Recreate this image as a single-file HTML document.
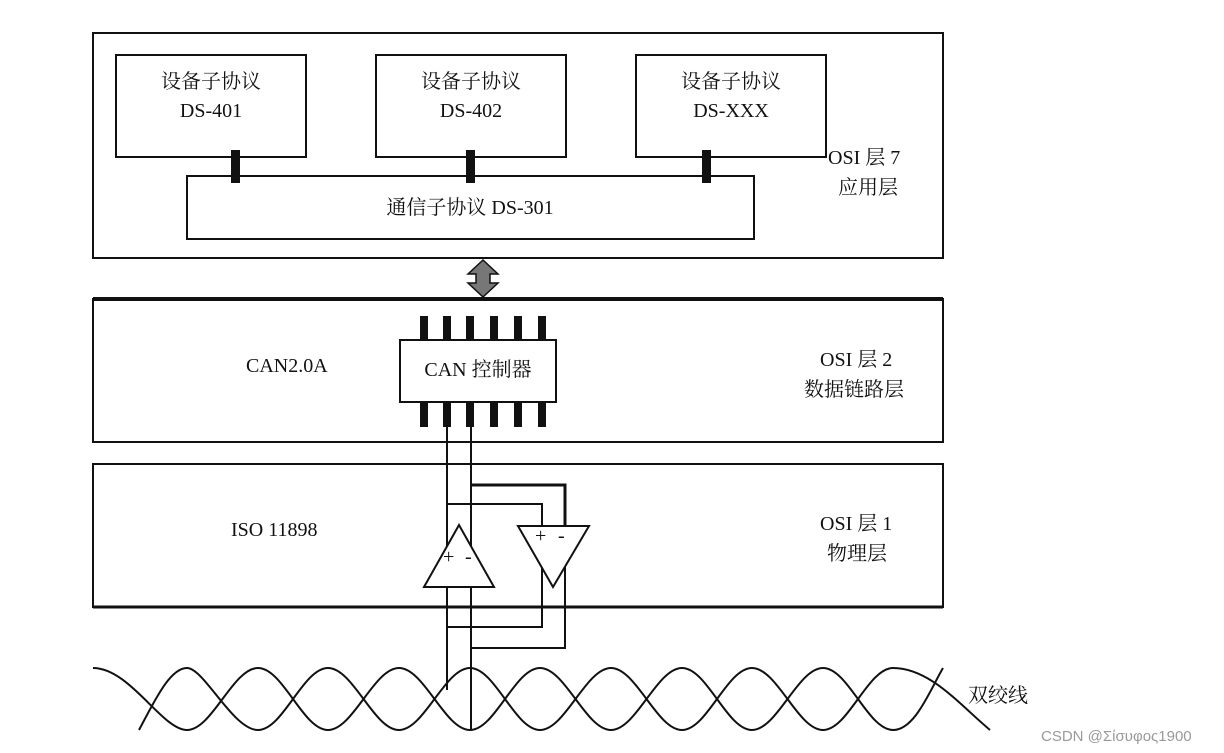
<!DOCTYPE html>
<html><head><meta charset="utf-8"><style>
html,body{margin:0;padding:0;background:#fff;}
svg{display:block;}
text{font-family:"Liberation Serif","Noto Serif CJK SC",serif;font-size:20px;fill:#111;}
</style></head><body>
<svg width="1224" height="753" viewBox="0 0 1224 753" xmlns="http://www.w3.org/2000/svg">
<g fill="none" stroke="#111">
<rect x="93" y="33" width="850" height="225" stroke-width="2"/>
<rect x="116" y="55" width="190" height="102" stroke-width="2"/>
<rect x="376" y="55" width="190" height="102" stroke-width="2"/>
<rect x="636" y="55" width="190" height="102" stroke-width="2"/>
<rect x="187" y="176" width="567" height="63" stroke-width="2"/>
<rect x="93" y="299" width="850" height="143" stroke-width="2"/>
<line x1="93" y1="299" x2="943" y2="299" stroke-width="4"/>
<rect x="93" y="464" width="850" height="143" stroke-width="2"/>
<line x1="93" y1="607" x2="943" y2="607" stroke-width="3"/>
<rect x="400" y="340" width="156" height="62" stroke-width="2"/>
</g>
<g fill="#111">
<rect x="231" y="150" width="9" height="33"/>
<rect x="466" y="150" width="9" height="33"/>
<rect x="702" y="150" width="9" height="33"/>
<rect x="420" y="316" width="8" height="24"/><rect x="443" y="316" width="8" height="24"/><rect x="466" y="316" width="8" height="24"/><rect x="490" y="316" width="8" height="24"/><rect x="514" y="316" width="8" height="24"/><rect x="538" y="316" width="8" height="24"/>
<rect x="420" y="402" width="8" height="25"/><rect x="443" y="402" width="8" height="25"/><rect x="466" y="402" width="8" height="25"/><rect x="490" y="402" width="8" height="25"/><rect x="514" y="402" width="8" height="25"/><rect x="538" y="402" width="8" height="25"/>
</g>
<path d="M483,260 L468,274 L476,274 L476,283 L468,283 L483,297 L498,283 L490,283 L490,274 L498,274 Z" fill="#777" stroke="#111" stroke-width="1.5"/>
<g fill="none" stroke="#111" stroke-width="2">
<path d="M447,427 V690"/>
<path d="M471,427 V730"/>
<path d="M471,485 H565 V526" stroke-width="3"/>
<path d="M447,504 H542 V526"/>
<path d="M542,560 V627 H447"/>
<path d="M565,540 V648 H471"/>
<path d="M459,525 L424,587 L494,587 Z" fill="#fff"/>
<path d="M518,526 L589,526 L553,587 Z" fill="#fff"/>
<path d="M447,587 V690 M471,587 V730"/>
<path d="M93,668 C130,668 162,730 187,730 S233,668 258,668 S303,730 328,730 S374,668 399,668 S445,730 470,730 S515,668 540,668 S586,730 611,730 S657,668 682,668 S727,730 752,730 S798,668 823,668 S868,730 893,730 C915,730 930,690 943,668"/>
<path d="M139,730 C155,700 170,668 187,668 S233,730 258,730 S303,668 328,668 S374,730 399,730 S445,668 470,668 S515,730 540,730 S586,668 611,668 S657,730 682,730 S727,668 752,668 S798,730 823,730 S868,668 893,668 C930,668 960,705 990,730"/>
</g>
<text x="443" y="563" font-size="22">+</text><text x="465" y="563" font-size="22">-</text>
<text x="535" y="542" font-size="22">+</text><text x="558" y="542" font-size="22">-</text>
<g text-anchor="middle">
<text x="211" y="88">设备子协议</text><text x="211" y="117">DS-401</text>
<text x="471" y="88">设备子协议</text><text x="471" y="117">DS-402</text>
<text x="731" y="88">设备子协议</text><text x="731" y="117">DS-XXX</text>
<text x="470" y="214">通信子协议  DS-301</text>
<text x="478" y="376">CAN 控制器</text>
</g>
<text x="828" y="164">OSI 层 7</text><text x="838" y="194">应用层</text>
<text x="246" y="372">CAN2.0A</text>
<text x="820" y="366">OSI 层 2</text><text x="804" y="396">数据链路层</text>
<text x="231" y="536">ISO 11898</text>
<text x="820" y="530">OSI 层 1</text><text x="827" y="560">物理层</text>
<text x="968" y="702">双绞线</text>
<text x="1041" y="741" style="font-family:'Liberation Sans','DejaVu Sans',sans-serif;font-size:15px;fill:#999">CSDN @Σίσυφος1900</text>
</svg>
</body></html>
